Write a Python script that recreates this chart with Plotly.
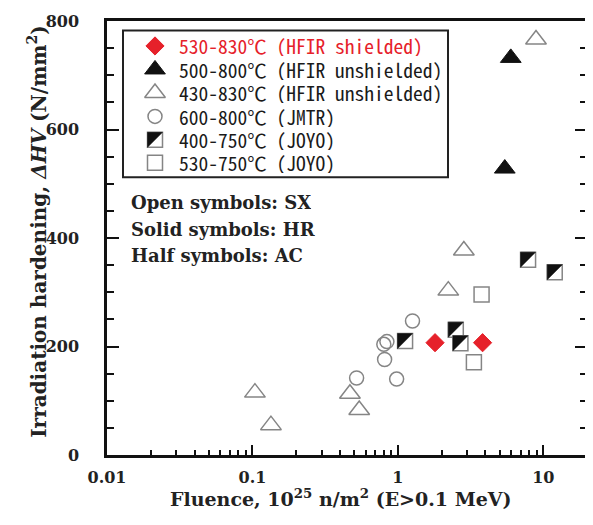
import plotly.graph_objects as go

# ---- data ----
shielded_x = [1.80, 3.82]
shielded_y = [207, 207]
hfir_hr_x = [5.97, 5.43]
hfir_hr_y = [732, 528]
hfir_sx_x = [8.90, 0.104, 0.134, 0.468, 0.542, 2.84, 2.22]
hfir_sx_y = [766, 115, 55, 113, 83, 377, 303]
jmtr_x = [0.52, 0.80, 0.84, 0.81, 0.98, 1.26]
jmtr_y = [142, 204, 209, 176, 140, 247]
joyo_ac_x = [1.12, 2.50, 2.69, 7.85, 11.97]
joyo_ac_y = [210, 231, 206, 360, 337]
joyo_sx_x = [3.76, 3.33]
joyo_sx_y = [296, 171]

legend_labels = [
    "530-830℃ (HFIR shielded)",
    "500-800℃ (HFIR unshielded)",
    "430-830℃ (HFIR unshielded)",
    "600-800℃ (JMTR)",
    "400-750℃ (JOYO)",
    "530-750℃ (JOYO)",
]
notes = ["Open symbols: SX", "Solid symbols: HR", "Half symbols: AC"]
x_title = "<b>Fluence, 10<sup>25</sup> n/m<sup>2</sup> (E&gt;0.1 MeV)</b>"
y_title = "<b>Irradiation hardening, <i>ΔHV</i> (N/mm<sup>2</sup>)</b>"
x_tickvals = [0.01, 0.1, 1, 10]
x_ticktext = ["0.01", "0.1", "1", "10"]
x_minor_vals = [m * d for d in (0.01, 0.1, 1, 10) for m in range(2, 10) if m * d < 20]

# ---- layout geometry (page has an 8px body margin) ----
OFF = 8
W, H = 593 - OFF, 525 - OFF
PL, PR, PT, PB = 107, 587, 21, 455.5          # plot area in window pixels
ML, MR, MT, MB = PL - OFF, W - (PR - OFF), PT - OFF, H - (PB - OFF)
RED = "#e6212a"
GRAY = "#858585"
BLACK = "#111111"
SERIF = "DejaVu Serif, Liberation Serif, serif"
GOTHIC = "Noto Sans Mono CJK JP, Noto Sans CJK JP, sans-serif"

def px_x(p):
    return (p - PL) / (PR - PL)

def px_y(p):
    return (PB - p) / (PB - PT)

styles = [
    dict(symbol="diamond", size=14, color=RED, line=dict(color=RED, width=1)),
    dict(symbol="triangle-up", size=18, color=BLACK, line=dict(color=BLACK, width=1)),
    dict(symbol="triangle-up", size=18, color="white", line=dict(color=GRAY, width=1.5)),
    dict(symbol="circle", size=14, color="rgba(255,255,255,0)", line=dict(color=GRAY, width=1.5)),
    dict(symbol="square", size=15, color="white", line=dict(color=GRAY, width=1.5)),
    dict(symbol="square", size=15, color="white", line=dict(color=GRAY, width=1.5)),
]
series = [
    (shielded_x, shielded_y),
    (hfir_hr_x, hfir_hr_y),
    (hfir_sx_x, hfir_sx_y),
    (jmtr_x, jmtr_y),
    (joyo_ac_x, joyo_ac_y),
    (joyo_sx_x, joyo_sx_y),
]

fig = go.Figure()
draw_order = [2, 3, 5, 4, 1, 0]
for i in draw_order:
    xs, ys = series[i]
    fig.add_trace(go.Scatter(x=xs, y=ys, mode="markers", marker=styles[i],
                             name=legend_labels[i], showlegend=False,
                             cliponaxis=False))

shapes = []
HALF = 7.5

def half_tri(xref, yref, xa, ya):
    return dict(type="path", xref=xref, yref=yref, xsizemode="pixel", ysizemode="pixel",
                xanchor=xa, yanchor=ya,
                path=f"M {-HALF},{HALF} L {HALF},{HALF} L {-HALF},{-HALF} Z",
                fillcolor=BLACK, line=dict(color=BLACK, width=0.5), layer="above")

for xa, ya in zip(joyo_ac_x, joyo_ac_y):
    shapes.append(half_tri("x", "y", xa, ya))

# ---- manual legend ----
LX0, LX1, LY0, LY1 = 123, 448, 30.5, 177.5
shapes.append(dict(type="rect", xref="paper", yref="paper",
                   x0=px_x(LX0), x1=px_x(LX1), y0=px_y(LY1), y1=px_y(LY0),
                   line=dict(color="#222222", width=2), fillcolor="white", layer="below"))
row_y = [46, 69.5, 93, 116.5, 140, 163]
sym_x = 155
for i, lab in enumerate(legend_labels):
    fig.add_trace(go.Scatter(x=[px_x(sym_x)], y=[px_y(row_y[i])], mode="markers",
                             marker=styles[i], xaxis="x2", yaxis="y2", showlegend=False,
                             hoverinfo="skip", cliponaxis=False))
    if i == 4:
        shapes.append(half_tri("paper", "paper", px_x(sym_x), px_y(row_y[i])))

annotations = []
for i, lab in enumerate(legend_labels):
    annotations.append(dict(xref="paper", yref="paper", x=px_x(178), y=px_y(row_y[i]),
                            xanchor="left", yanchor="middle", showarrow=False, text=lab,
                            height=21, valign="middle", borderpad=0,
                            font=dict(family=GOTHIC, size=19.5, color=RED if i == 0 else "#1a1a1a")))
note_y = [203, 229.5, 256]
for t, yy in zip(notes, note_y):
    annotations.append(dict(xref="paper", yref="paper", x=px_x(130), y=px_y(yy),
                            xanchor="left", yanchor="middle", showarrow=False,
                            height=23, valign="middle", borderpad=0,
                            text=f"<b>{t}</b>", font=dict(family=SERIF, size=18, color="#222222")))
# axis titles
annotations.append(dict(xref="paper", yref="paper", x=px_x(341), y=px_y(499),
                        xanchor="center", yanchor="middle", showarrow=False, text=x_title,
                        font=dict(family=SERIF, size=19, color="#222")))
annotations.append(dict(xref="paper", yref="paper", x=px_x(37), y=px_y(232),
                        xanchor="center", yanchor="middle", showarrow=False, text=y_title,
                        textangle=-90, font=dict(family=SERIF, size=20, color="#222")))

fig.update_layout(
    width=W, height=H,
    margin=dict(l=ML, r=MR, t=MT, b=MB),
    paper_bgcolor="white", plot_bgcolor="white",
    shapes=shapes, annotations=annotations,
    showlegend=False,
    xaxis=dict(type="log", range=[-2, 1.3], tickvals=x_tickvals, ticktext=x_ticktext,
               ticks="inside", ticklen=10, tickwidth=1.5, tickcolor="#111",
               minor=dict(ticks="inside", ticklen=5, tickwidth=1.5, tickcolor="#111",
                          tickvals=x_minor_vals, showgrid=False),
               showline=True, linewidth=2.5, linecolor="#111", mirror=True,
               showgrid=False, zeroline=False, automargin=False,
               tickfont=dict(family=SERIF, size=16, color="#222", weight="bold"),
               ticklabelstandoff=6),
    yaxis=dict(range=[0, 800], tickmode="linear", tick0=0, dtick=200,
               ticks="inside", ticklen=12, tickwidth=1.5, tickcolor="#111",
               minor=dict(ticks="inside", ticklen=7, tickwidth=1.5, tickcolor="#111",
                          dtick=50, showgrid=False),
               showline=True, linewidth=2.5, linecolor="#111", mirror="ticks",
               showgrid=False, zeroline=False, automargin=False,
               tickfont=dict(family=SERIF, size=16, color="#222", weight="bold"),
               ticklabelstandoff=22),
    xaxis2=dict(overlaying="x", range=[0, 1], visible=False, fixedrange=True),
    yaxis2=dict(overlaying="y", range=[0, 1], visible=False, fixedrange=True),
)

fig.write_html("out.html")
